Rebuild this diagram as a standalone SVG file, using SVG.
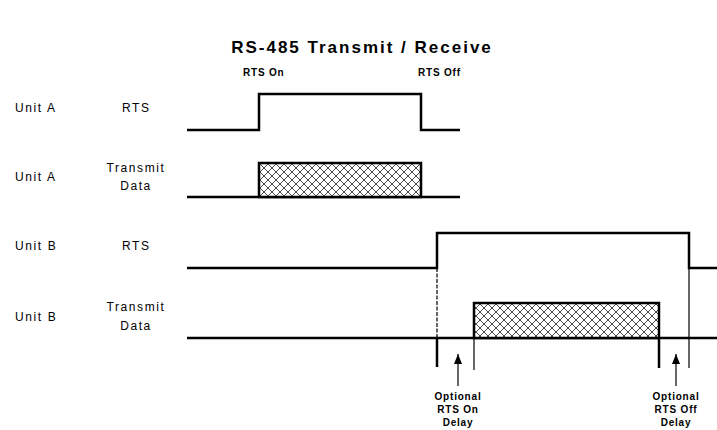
<svg xmlns="http://www.w3.org/2000/svg" width="717" height="430" viewBox="0 0 717 430">
<style>
text{font-family:"Liberation Sans",Arial,sans-serif;fill:#000}
.lbl{font-size:12px;letter-spacing:1.6px}
.small{font-size:10px;font-weight:bold;letter-spacing:0.8px}
.title{font-size:17px;font-weight:bold;letter-spacing:2px}
.sig{fill:none;stroke:#000;stroke-width:2.5}
.thin{fill:none;stroke:#000;stroke-width:1.2}
.thick{fill:none;stroke:#000;stroke-width:2.5}
.data{fill:url(#hatch);stroke:#000;stroke-width:2.5}
</style>
<defs>
<pattern id="hatch" patternUnits="userSpaceOnUse" width="8" height="8">
<rect width="8" height="8" fill="#fff"/>
<path d="M0,0L8,8M8,0L0,8" stroke="#333" stroke-width="0.9"/>
</pattern>
<marker id="arr" markerWidth="10" markerHeight="8" refX="10" refY="4" orient="auto" markerUnits="userSpaceOnUse" viewBox="0 0 10 8">
<path d="M10,4L0,0L0,8Z" fill="#000"/>
</marker>
</defs>
<rect width="717" height="430" fill="#fff"/>
<text class="title" x="362" y="53" text-anchor="middle">RS-485 Transmit / Receive</text>
<text class="small" x="243" y="76">RTS On</text>
<text class="small" x="418" y="76">RTS Off</text>

<g id="unitA-rts">
<text class="lbl" x="15" y="112">Unit A</text>
<text class="lbl" x="122" y="112">RTS</text>
<path class="sig" d="M187,130H259V94H421V130H460"/>
</g>
<g id="unitA-data">
<text class="lbl" x="15" y="181">Unit A</text>
<text class="lbl" x="136" y="172" text-anchor="middle">Transmit</text>
<text class="lbl" x="136" y="190" text-anchor="middle">Data</text>
<path class="sig" d="M187,197H460"/>
<rect class="data" x="259" y="163" width="162" height="34"/>
</g>
<g id="unitB-rts">
<text class="lbl" x="15" y="250">Unit B</text>
<text class="lbl" x="122" y="250">RTS</text>
<path class="sig" d="M187,268H437V233H689V268H717"/>
</g>
<g id="unitB-data">
<text class="lbl" x="15" y="321">Unit B</text>
<text class="lbl" x="136" y="311" text-anchor="middle">Transmit</text>
<text class="lbl" x="136" y="330" text-anchor="middle">Data</text>
<path class="sig" d="M187,338H717"/>
<rect class="data" x="474" y="303" width="185" height="35"/>
</g>
<g id="connectors">
<path class="thin" d="M437,268V338" stroke-dasharray="4,1.5"/>
<path class="thick" d="M437,338V367"/>
<path class="thin" d="M474,338V370"/>
<path class="thick" d="M659,338V368"/>
<path class="thin" d="M689,268V368"/>
<path class="thin" d="M458,386V354" marker-end="url(#arr)"/>
<path class="thin" d="M676,386V354" marker-end="url(#arr)"/>
</g>
<g id="onDelay">
<text class="small" x="458" y="400" text-anchor="middle">Optional</text>
<text class="small" x="458" y="413" text-anchor="middle">RTS On</text>
<text class="small" x="458" y="426" text-anchor="middle">Delay</text>
</g>
<g id="offDelay">
<text class="small" x="676" y="400" text-anchor="middle">Optional</text>
<text class="small" x="676" y="413" text-anchor="middle">RTS Off</text>
<text class="small" x="676" y="426" text-anchor="middle">Delay</text>
</g>
</svg>
